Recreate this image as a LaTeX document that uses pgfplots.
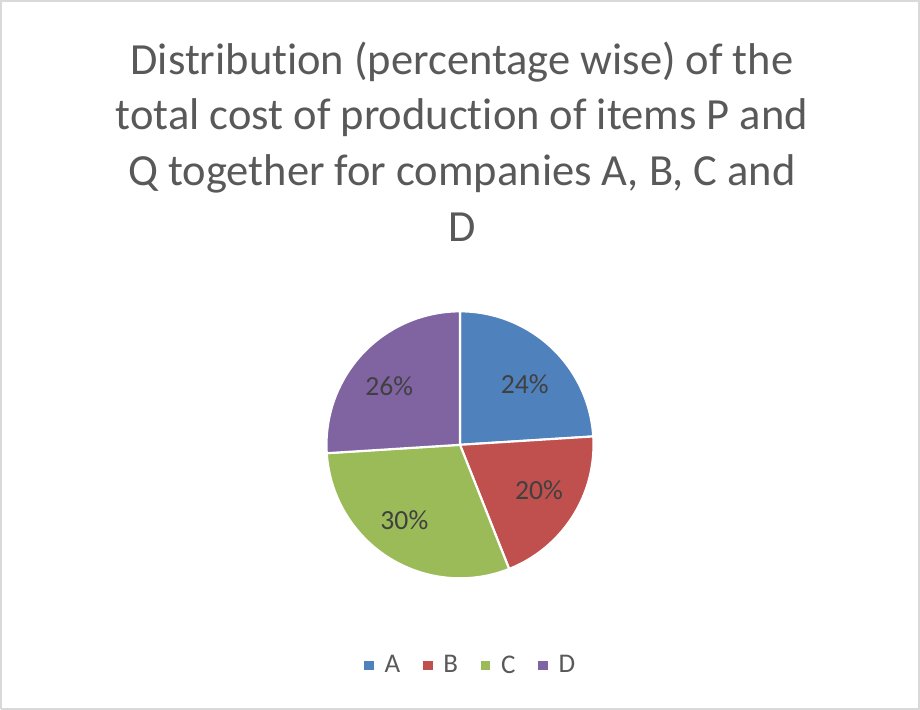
\documentclass[border=0pt]{standalone}
\usepackage{pgfplots}
\pgfplotsset{compat=1.18}
\usepackage{fontspec}
\setmainfont[Ligatures=NoCommon]{Carlito}
\definecolor{cA}{HTML}{4F81BD}
\definecolor{cB}{HTML}{C0504D}
\definecolor{cC}{HTML}{9BBB59}
\definecolor{cD}{HTML}{8064A2}
\definecolor{titlegray}{HTML}{595959}
\definecolor{labelgray}{HTML}{404040}
\definecolor{framegray}{HTML}{D9D9D9}
\begin{document}
\begin{tikzpicture}
\begin{axis}[
  scale only axis, width=690pt, height=536.25pt,
  xmin=0, xmax=920, ymin=0, ymax=715,
  hide axis, clip=false,
  legend style={at={(axis cs:474,50)}, anchor=center, draw=none, fill=none,
    legend columns=4, font=\fontsize{20}{22}\selectfont\color{titlegray},
    /tikz/every odd column/.append style={column sep=6pt},
    /tikz/every even column/.append style={column sep=15pt}},
  legend image code/.code={\fill[#1,draw=none] (0pt,-3.5pt) rectangle (7pt,3.5pt);},
]
% frame
\addplot[draw=framegray, line width=1.2pt, forget plot] coordinates {(9,7) (917,7) (917,707) (9,707) (9,7)};
% pie slices: A 24, B 20, C 30, D 26 (percent), starting at 90 deg clockwise
\addplot[fill=cA, draw=white, line width=1.6pt, domain={90-3.6*24}:{90}, samples=60]
  ({463+132*cos(x)},{268+132*sin(x)}) -- (axis cs:463,268) -- cycle;
\addlegendentry{A}
\addplot[fill=cB, draw=white, line width=1.6pt, domain={90-3.6*(24+20)}:{90-3.6*24}, samples=60]
  ({463+132*cos(x)},{268+132*sin(x)}) -- (axis cs:463,268) -- cycle;
\addlegendentry{B}
\addplot[fill=cC, draw=white, line width=1.6pt, domain={90-3.6*(24+20+30)}:{90-3.6*(24+20)}, samples=60]
  ({463+132*cos(x)},{268+132*sin(x)}) -- (axis cs:463,268) -- cycle;
\addlegendentry{C}
\addplot[fill=cD, draw=white, line width=1.6pt, domain={90-3.6*(24+20+30+26)}:{90-3.6*(24+20+30)}, samples=60]
  ({463+132*cos(x)},{268+132*sin(x)}) -- (axis cs:463,268) -- cycle;
\addlegendentry{D}
% labels
\node[text=labelgray, font=\fontsize{20.5}{22}\selectfont] at (axis cs:527,328) {24\%};
\node[text=labelgray, font=\fontsize{20.5}{22}\selectfont] at (axis cs:541,223) {20\%};
\node[text=labelgray, font=\fontsize{20.5}{22}\selectfont] at (axis cs:408,193) {30\%};
\node[text=labelgray, font=\fontsize{20.5}{22}\selectfont] at (axis cs:393,326) {26\%};
% title
\node[text=titlegray, align=center, font=\fontsize{33}{41.25}\selectfont] at (axis cs:465,568)
  {Distribution (percentage wise) of the\\total cost of production of items P and\\Q together for companies A, B, C and\\D};
\end{axis}
\end{tikzpicture}
\end{document}
